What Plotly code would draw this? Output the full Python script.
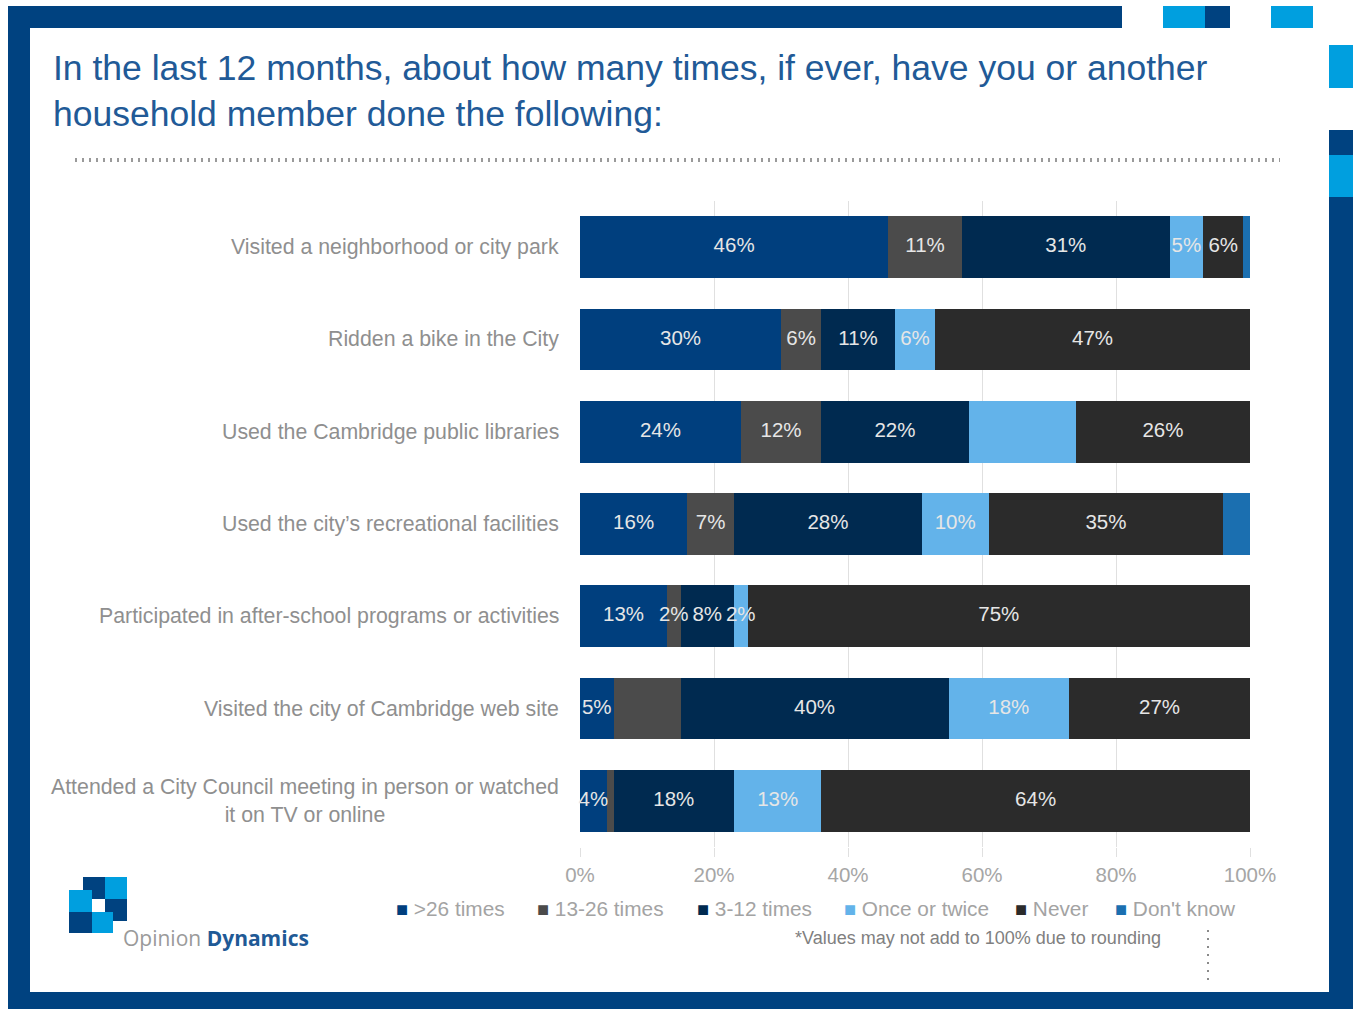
import plotly.graph_objects as go

# Survey items (top to bottom)
categories = [
    "Visited a neighborhood or city park",
    "Ridden a bike in the City",
    "Used the Cambridge public libraries",
    "Used the city\u2019s recreational facilities",
    "Participated in after-school programs or activities",
    "Visited the city of Cambridge web site",
    "Attended a City Council meeting in person or watched<br>it on TV or online",
]

# Share of respondents (%) for each frequency
over_26 = [46, 30, 24, 16, 13, 5, 4]
times_13_26 = [11, 6, 12, 7, 2, 10, 1]
times_3_12 = [31, 11, 22, 28, 8, 40, 18]
once_twice = [5, 6, 16, 10, 2, 18, 13]
never = [6, 47, 26, 35, 75, 27, 64]
dont_know = [1, 0, 0, 4, 0, 0, 0]

series_names = [">26 times", "13-26 times", "3-12 times", "Once or twice", "Never", "Don't know"]
series_values = [over_26, times_13_26, times_3_12, once_twice, never, dont_know]
series_colors = ["#003f7e", "#4b4b4b", "#002a50", "#63b3ea", "#2b2b2b", "#1b6fb0"]

# Segments printed without a value label
unlabeled = {("Once or twice", 2), ("13-26 times", 5), ("13-26 times", 6)}
unlabeled_series = {"Don't know"}

x_ticks = [0, 20, 40, 60, 80, 100]
x_tick_text = ["0%", "20%", "40%", "60%", "80%", "100%"]

W, H = 1353, 1009
L, R, T, B = 580, 103, 201, 162
PW, PH = W - L - R, H - T - B


def px(x):
    return (x - L) / PW


def py(y):
    return (H - B - y) / PH


fig = go.Figure()
for name, vals, col in zip(series_names, series_values, series_colors):
    fig.add_trace(go.Bar(
        y=categories, x=vals, name=name, orientation="h",
        marker=dict(color=col, line=dict(width=0)),
        hoverinfo="skip", showlegend=False,
    ))

# Value labels drawn on top of every segment, centred on the segment
lab_x, lab_y, lab_t = [], [], []
running = [0] * len(categories)
for name, vals in zip(series_names, series_values):
    for i, v in enumerate(vals):
        if v > 0 and name not in unlabeled_series and (name, i) not in unlabeled:
            lab_x.append(running[i] + v / 2)
            lab_y.append(categories[i])
            lab_t.append(f"{v}%")
        running[i] += v
fig.add_trace(go.Scatter(
    x=lab_x, y=lab_y, text=lab_t, mode="text", textposition="middle center",
    textfont=dict(color="#e6e6e6", size=20.5, family="Liberation Sans, Arial"),
    hoverinfo="skip", showlegend=False, cliponaxis=False,
))

shapes = []
dark = "#004280"
light = "#009fdf"


def rect(x0, y0, x1, y1, color):
    shapes.append(dict(type="rect", xref="paper", yref="paper",
                       x0=px(x0), x1=px(x1), y0=py(y0), y1=py(y1),
                       fillcolor=color, line=dict(width=0), layer="above"))


# Page frame
rect(8, 6, 1122, 28, dark)
rect(8, 6, 30, 1009, dark)
rect(8, 992, 1353, 1009, dark)
rect(1329, 197, 1353, 1009, dark)
rect(1329, 155, 1353, 197, light)
rect(1329, 130, 1353, 155, dark)
rect(1329, 45, 1353, 88, light)
rect(1163, 6, 1205, 28, light)
rect(1205, 6, 1230, 28, dark)
rect(1271, 6, 1313, 28, light)

# Logo blocks
rect(83, 877, 105, 899, dark)
rect(105, 877, 127, 899, light)
rect(69, 890, 92, 912, light)
rect(105, 899, 127, 921, dark)
rect(69, 912, 92, 933, dark)
rect(92, 912, 113, 933, light)

# Dotted rule under the heading
shapes.append(dict(type="line", xref="paper", yref="paper",
                   x0=px(75), x1=px(1280), y0=py(160), y1=py(160),
                   line=dict(color="#9a9a9a", width=4, dash="2px,5px")))
# Dotted vertical rule by the footnote
shapes.append(dict(type="line", xref="paper", yref="paper",
                   x0=px(1208), x1=px(1208), y0=py(930), y1=py(980),
                   line=dict(color="#8a8a8a", width=2, dash="2px,6px")))

annotations = []

# Heading
annotations.append(dict(
    xref="paper", yref="paper", x=px(51), y=py(46),
    xanchor="left", yanchor="top", showarrow=False, align="left",
    text="In the last 12 months, about how many times, if ever, have you or another<br>household member done the following:",
    font=dict(family="Liberation Sans, Arial", size=35.5, color="#215a97"),
))

label_font = dict(family="Liberation Sans, Arial", size=21.3, color="#8f8f8f")
for cat in categories:
    annotations.append(dict(
        xref="paper", yref="y", x=0, y=cat, xanchor="right", yanchor="middle",
        xshift=-19, text=cat, showarrow=False, align="center", font=label_font,
    ))

# Legend row
legend_x = [394, 535, 695, 842, 1013, 1113]
for name, col, lx in zip(series_names, series_colors, legend_x):
    annotations.append(dict(
        xref="paper", yref="paper", x=px(lx), y=py(908),
        xanchor="left", yanchor="middle", showarrow=False,
        text=f'<span style="color:{col};font-size:20px">\u25a0</span> {name.replace(">", "&gt;")}',
        font=dict(family="Liberation Sans, Arial", size=20.8, color="#a3a3a3"),
    ))

annotations.append(dict(
    xref="paper", yref="paper", x=px(1163), y=py(938),
    xanchor="right", yanchor="middle", showarrow=False,
    text="*Values may not add to 100% due to rounding",
    font=dict(family="Liberation Sans, Arial", size=18, color="#808080"),
))

annotations.append(dict(
    xref="paper", yref="paper", x=px(121), y=py(938),
    xanchor="left", yanchor="middle", showarrow=False,
    text='Opinion <b><span style="color:#1f5a96">Dynamics</span></b>',
    font=dict(family="Open Sans, Arial", size=21, color="#9a9a9a"),
))

fig.update_layout(
    width=W, height=H,
    margin=dict(l=L, r=R, t=T, b=B),
    paper_bgcolor="white", plot_bgcolor="white",
    barmode="stack", bargap=0.33,
    xaxis=dict(
        range=[0, 100], tickvals=x_ticks, ticktext=x_tick_text,
        showgrid=True, gridcolor="#e0e0e0", gridwidth=1,
        zeroline=False, showline=False,
        ticks="outside", ticklen=9, tickcolor="#e0e0e0",
        tickfont=dict(family="Liberation Sans, Arial", size=20.5, color="#a6a6a6"),
        fixedrange=True,
    ),
    yaxis=dict(
        type="category", autorange="reversed", showticklabels=False,
        showgrid=False, zeroline=False, showline=False, fixedrange=True,
    ),
    shapes=shapes, annotations=annotations,
    showlegend=False,
)

fig.write_html("out.html")
